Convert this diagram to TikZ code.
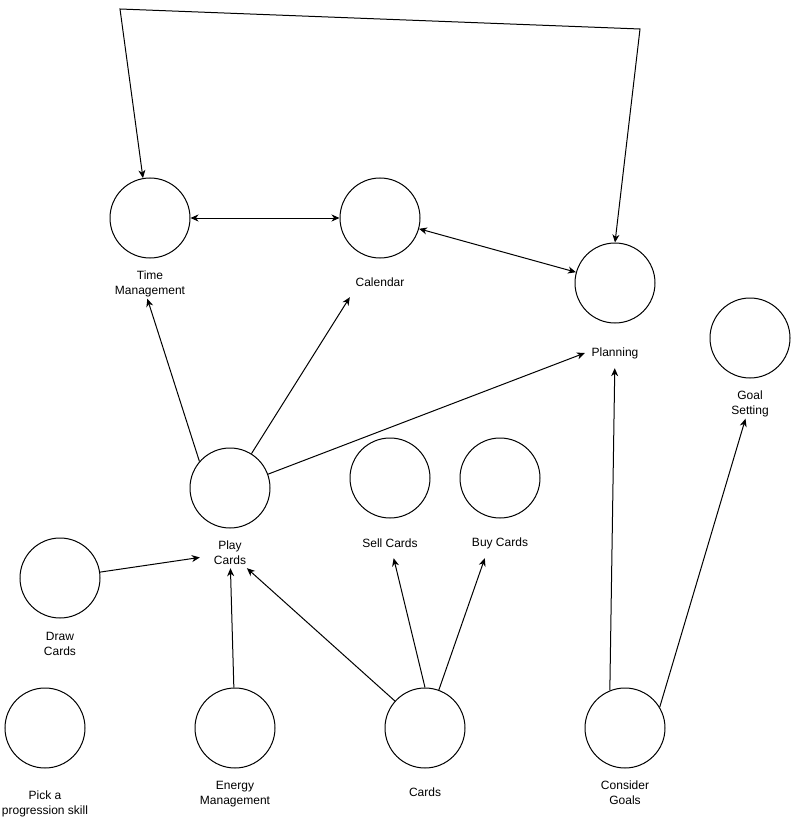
\documentclass[tikz,border=0pt]{standalone}
\usepackage{fontspec}
\setmainfont{Liberation Sans}
\usetikzlibrary{arrows.meta}

\begin{document}
\begin{tikzpicture}[x=1pt,y=-1pt,
  ring/.style={circle,draw,line width=1pt,minimum size=80pt,inner sep=0pt},
  lbl/.style={align=center,minimum width=60pt,minimum height=30pt,inner sep=0pt,font=\fontsize{12}{15}\selectfont},
  arr/.style={line width=1pt,-{Stealth[length=8pt,width=7pt,inset=2.5pt]}},
  darr/.style={line width=1pt,{Stealth[length=8pt,width=7pt,inset=2.5pt]}-{Stealth[length=8pt,width=7pt,inset=2.5pt]}}]
\useasboundingbox (0,0) rectangle (791,829);
\foreach \n/\x/\y in {time/150/218, cal/380/218, plan/615/283, goal/750/338,
                     play/230/488, sell/390/478, buy/500/478, draw/60/578,
                     pick/45/728, energy/235/728, cards/425/728, cgoal/625/728}
        \node[ring] (\n) at (\x,\y) {};

\node[lbl] (timel) at (150,283.5) {Time\\Management};
\node[lbl] (call) at (380,282) {Calendar};
\node[lbl] (planl) at (615,353) {Planning};
\node[lbl] (goall) at (750,403.5) {Goal\\Setting};
\node[lbl] (playl) at (230,553) {Play\\Cards};
\node[lbl] (selll) at (390,543) {Sell Cards};
\node[lbl] (buyl) at (500,543) {Buy Cards};
\node[lbl] (drawl) at (60,643.5) {Draw\\Cards};
\node[lbl] (pickl) at (45,803.5) {Pick a\\progression skill};
\node[lbl] (energyl) at (235,794) {Energy\\Management};
\node[lbl] (cardsl) at (425,792) {Cards};
\node[lbl] (cgoall) at (625,792.5) {Consider\\Goals};

\coordinate (tl) at (120,9);
\coordinate (tr) at (640,29);
\draw[darr] (time.100) -- (tl) -- (tr) -- (plan.north);
\draw[darr] (time) -- (cal);
\draw[darr] (cal) -- (plan);

\draw[arr] (play.139) -- (timel.260);
\draw[arr] (play.58) -- (call.south west);
\draw[arr] (play.20) -- (planl.west);
\draw[arr] (draw) -- (playl);
\draw[arr] (energy) -- (playl);
\draw[arr] (cards) -- (playl);
\draw[arr] (cards.north) -- (selll);
\draw[arr] (cards.70) -- (buyl.225);
\draw[arr] (cgoal.112) -- (planl);
\draw[arr] (cgoal.31) -- (goall);
\end{tikzpicture}
\end{document}
